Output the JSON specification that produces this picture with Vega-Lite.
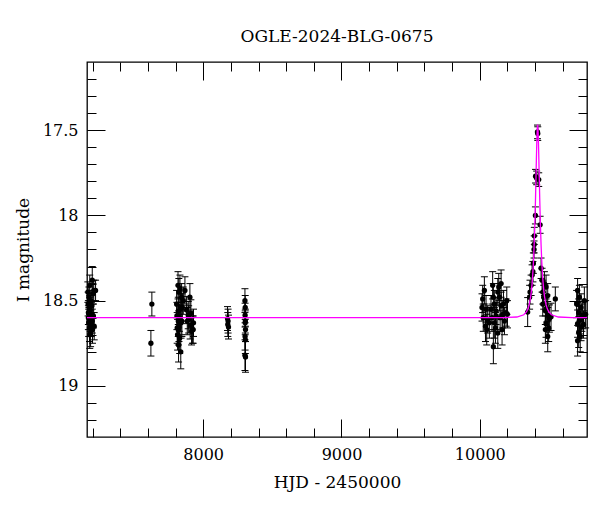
{
  "$schema": "https://vega.github.io/schema/vega-lite/v6.json",
  "width": 500,
  "height": 375,
  "autosize": "none",
  "padding": {"left": 87, "top": 62, "right": 13, "bottom": 75},
  "title": {"text": "OGLE-2024-BLG-0675", "font": "DejaVu Serif", "fontSize": 17, "fontWeight": "normal", "color": "black", "offset": 16, "anchor": "middle"},
  "config": {
    "view": {"stroke": "black", "strokeWidth": 1.3},
    "axis": {"grid": false, "domain": false, "tickColor": "black", "tickWidth": 1, "labelFont": "DejaVu Serif", "labelFontSize": 16, "labelColor": "black", "titleFont": "DejaVu Serif", "titleFontSize": 17, "titleFontWeight": "normal", "titleColor": "black"}
  },
  "datasets": {
    "obs": [
      {"hjd": 7166, "mag": 18.45, "err": 0.06}, {"hjd": 7168, "mag": 18.52, "err": 0.07}, {"hjd": 7170, "mag": 18.60, "err": 0.07},
      {"hjd": 7172, "mag": 18.63, "err": 0.08}, {"hjd": 7174, "mag": 18.48, "err": 0.06}, {"hjd": 7176, "mag": 18.57, "err": 0.07},
      {"hjd": 7178, "mag": 18.66, "err": 0.08}, {"hjd": 7180, "mag": 18.41, "err": 0.06}, {"hjd": 7182, "mag": 18.55, "err": 0.07},
      {"hjd": 7184, "mag": 18.61, "err": 0.07}, {"hjd": 7186, "mag": 18.69, "err": 0.08}, {"hjd": 7188, "mag": 18.50, "err": 0.06},
      {"hjd": 7190, "mag": 18.64, "err": 0.07}, {"hjd": 7192, "mag": 18.58, "err": 0.07}, {"hjd": 7198, "mag": 18.38, "err": 0.08},
      {"hjd": 7196, "mag": 18.53, "err": 0.07}, {"hjd": 7198, "mag": 18.62, "err": 0.07}, {"hjd": 7200, "mag": 18.67, "err": 0.08},
      {"hjd": 7203, "mag": 18.46, "err": 0.06}, {"hjd": 7206, "mag": 18.59, "err": 0.07}, {"hjd": 7209, "mag": 18.44, "err": 0.06},
      {"hjd": 7212, "mag": 18.65, "err": 0.08}, {"hjd": 7222, "mag": 18.44, "err": 0.06}, {"hjd": 7170, "mag": 18.57, "err": 0.07},
      {"hjd": 7180, "mag": 18.70, "err": 0.08},
      {"hjd": 7622, "mag": 18.75, "err": 0.075}, {"hjd": 7629, "mag": 18.52, "err": 0.07},
      {"hjd": 7808, "mag": 18.52, "err": 0.08}, {"hjd": 7810, "mag": 18.59, "err": 0.08}, {"hjd": 7812, "mag": 18.66, "err": 0.09},
      {"hjd": 7815, "mag": 18.70, "err": 0.09}, {"hjd": 7818, "mag": 18.41, "err": 0.08}, {"hjd": 7820, "mag": 18.56, "err": 0.08},
      {"hjd": 7820, "mag": 18.62, "err": 0.09}, {"hjd": 7821, "mag": 18.67, "err": 0.09}, {"hjd": 7822, "mag": 18.76, "err": 0.10},
      {"hjd": 7824, "mag": 18.45, "err": 0.08}, {"hjd": 7825, "mag": 18.65, "err": 0.09}, {"hjd": 7828, "mag": 18.60, "err": 0.08},
      {"hjd": 7830, "mag": 18.72, "err": 0.09}, {"hjd": 7832, "mag": 18.43, "err": 0.08}, {"hjd": 7835, "mag": 18.54, "err": 0.08},
      {"hjd": 7838, "mag": 18.80, "err": 0.10}, {"hjd": 7840, "mag": 18.63, "err": 0.09}, {"hjd": 7844, "mag": 18.48, "err": 0.08},
      {"hjd": 7846, "mag": 18.62, "err": 0.09}, {"hjd": 7849, "mag": 18.54, "err": 0.08}, {"hjd": 7856, "mag": 18.50, "err": 0.08},
      {"hjd": 7868, "mag": 18.44, "err": 0.08}, {"hjd": 7880, "mag": 18.555, "err": 0.08}, {"hjd": 7885, "mag": 18.62, "err": 0.08},
      {"hjd": 7892, "mag": 18.585, "err": 0.08}, {"hjd": 7895, "mag": 18.61, "err": 0.08}, {"hjd": 7904, "mag": 18.48, "err": 0.08},
      {"hjd": 7906, "mag": 18.645, "err": 0.08}, {"hjd": 7911, "mag": 18.575, "err": 0.08}, {"hjd": 7916, "mag": 18.68, "err": 0.08},
      {"hjd": 7922, "mag": 18.67, "err": 0.08}, {"hjd": 7928, "mag": 18.67, "err": 0.08}, {"hjd": 7930, "mag": 18.63, "err": 0.08},
      {"hjd": 8176, "mag": 18.605, "err": 0.07}, {"hjd": 8180, "mag": 18.62, "err": 0.07}, {"hjd": 8183, "mag": 18.655, "err": 0.07},
      {"hjd": 8178, "mag": 18.64, "err": 0.07},
      {"hjd": 8302, "mag": 18.50, "err": 0.07}, {"hjd": 8304, "mag": 18.54, "err": 0.07}, {"hjd": 8303, "mag": 18.585, "err": 0.07},
      {"hjd": 8305, "mag": 18.62, "err": 0.07}, {"hjd": 8304, "mag": 18.63, "err": 0.07}, {"hjd": 8306, "mag": 18.67, "err": 0.07},
      {"hjd": 8303, "mag": 18.71, "err": 0.08}, {"hjd": 8305, "mag": 18.73, "err": 0.08}, {"hjd": 8302, "mag": 18.82, "err": 0.09},
      {"hjd": 8306, "mag": 18.83, "err": 0.09},
      {"hjd": 10021, "mag": 18.49, "err": 0.08}, {"hjd": 10033, "mag": 18.44, "err": 0.08}, {"hjd": 10045, "mag": 18.55, "err": 0.08},
      {"hjd": 10025, "mag": 18.60, "err": 0.08}, {"hjd": 10041, "mag": 18.65, "err": 0.09}, {"hjd": 10050, "mag": 18.67, "err": 0.09},
      {"hjd": 10057, "mag": 18.61, "err": 0.08}, {"hjd": 10093, "mag": 18.41, "err": 0.08}, {"hjd": 10098, "mag": 18.48, "err": 0.08},
      {"hjd": 10105, "mag": 18.52, "err": 0.08}, {"hjd": 10118, "mag": 18.56, "err": 0.08}, {"hjd": 10088, "mag": 18.60, "err": 0.08},
      {"hjd": 10105, "mag": 18.63, "err": 0.09}, {"hjd": 10113, "mag": 18.66, "err": 0.09}, {"hjd": 10130, "mag": 18.69, "err": 0.09},
      {"hjd": 10098, "mag": 18.77, "err": 0.10}, {"hjd": 10137, "mag": 18.42, "err": 0.08}, {"hjd": 10142, "mag": 18.48, "err": 0.08},
      {"hjd": 10154, "mag": 18.53, "err": 0.08}, {"hjd": 10166, "mag": 18.58, "err": 0.08}, {"hjd": 10178, "mag": 18.62, "err": 0.08},
      {"hjd": 10161, "mag": 18.67, "err": 0.09}, {"hjd": 10190, "mag": 18.57, "err": 0.08}, {"hjd": 10195, "mag": 18.50, "err": 0.08},
      {"hjd": 10154, "mag": 18.40, "err": 0.08}, {"hjd": 10081, "mag": 18.55, "err": 0.08}, {"hjd": 10118, "mag": 18.59, "err": 0.08},
      {"hjd": 10147, "mag": 18.60, "err": 0.08}, {"hjd": 10016, "mag": 18.54, "err": 0.08}, {"hjd": 10069, "mag": 18.63, "err": 0.09},
      {"hjd": 10130, "mag": 18.45, "err": 0.08}, {"hjd": 10171, "mag": 18.52, "err": 0.08}, {"hjd": 10200, "mag": 18.58, "err": 0.08},
      {"hjd": 10346, "mag": 18.567, "err": 0.085}, {"hjd": 10360, "mag": 18.48, "err": 0.07}, {"hjd": 10363, "mag": 18.45, "err": 0.07},
      {"hjd": 10371, "mag": 18.41, "err": 0.06}, {"hjd": 10378, "mag": 18.35, "err": 0.06}, {"hjd": 10384, "mag": 18.33, "err": 0.06},
      {"hjd": 10387, "mag": 18.28, "err": 0.06}, {"hjd": 10392, "mag": 18.20, "err": 0.05}, {"hjd": 10393, "mag": 18.17, "err": 0.05},
      {"hjd": 10394, "mag": 18.12, "err": 0.05}, {"hjd": 10402, "mag": 18.00, "err": 0.05}, {"hjd": 10403, "mag": 17.77, "err": 0.04},
      {"hjd": 10411, "mag": 17.78, "err": 0.04}, {"hjd": 10426, "mag": 17.79, "err": 0.04}, {"hjd": 10417, "mag": 17.51, "err": 0.04},
      {"hjd": 10419, "mag": 17.52, "err": 0.04}, {"hjd": 10436, "mag": 18.055, "err": 0.05}, {"hjd": 10443, "mag": 18.31, "err": 0.06},
      {"hjd": 10450, "mag": 18.38, "err": 0.07}, {"hjd": 10455, "mag": 18.45, "err": 0.07}, {"hjd": 10467, "mag": 18.40, "err": 0.07},
      {"hjd": 10479, "mag": 18.42, "err": 0.07}, {"hjd": 10491, "mag": 18.47, "err": 0.07}, {"hjd": 10455, "mag": 18.52, "err": 0.07},
      {"hjd": 10474, "mag": 18.56, "err": 0.08}, {"hjd": 10491, "mag": 18.585, "err": 0.08}, {"hjd": 10479, "mag": 18.635, "err": 0.08},
      {"hjd": 10503, "mag": 18.605, "err": 0.08}, {"hjd": 10498, "mag": 18.66, "err": 0.08}, {"hjd": 10515, "mag": 18.595, "err": 0.08},
      {"hjd": 10546, "mag": 18.49, "err": 0.07}, {"hjd": 10484, "mag": 18.545, "err": 0.08}, {"hjd": 10462, "mag": 18.48, "err": 0.07},
      {"hjd": 10491, "mag": 18.71, "err": 0.09}, {"hjd": 10474, "mag": 18.67, "err": 0.08},
      {"hjd": 10707, "mag": 18.44, "err": 0.07}, {"hjd": 10720, "mag": 18.48, "err": 0.07}, {"hjd": 10700, "mag": 18.52, "err": 0.08},
      {"hjd": 10732, "mag": 18.54, "err": 0.08}, {"hjd": 10715, "mag": 18.57, "err": 0.08}, {"hjd": 10744, "mag": 18.585, "err": 0.08},
      {"hjd": 10720, "mag": 18.615, "err": 0.08}, {"hjd": 10707, "mag": 18.635, "err": 0.08}, {"hjd": 10732, "mag": 18.655, "err": 0.08},
      {"hjd": 10715, "mag": 18.685, "err": 0.09}, {"hjd": 10726, "mag": 18.71, "err": 0.09}, {"hjd": 10707, "mag": 18.735, "err": 0.09},
      {"hjd": 10756, "mag": 18.50, "err": 0.08}, {"hjd": 10738, "mag": 18.60, "err": 0.08}, {"hjd": 10750, "mag": 18.64, "err": 0.08},
      {"hjd": 10765, "mag": 18.58, "err": 0.08}
    ],
    "model": [
      {"hjd": 7160, "mag": 18.6}, {"hjd": 10000, "mag": 18.6}, {"hjd": 10168, "mag": 18.5995}, {"hjd": 10268, "mag": 18.596},
      {"hjd": 10318, "mag": 18.583}, {"hjd": 10338, "mag": 18.565}, {"hjd": 10348, "mag": 18.548}, {"hjd": 10358, "mag": 18.521},
      {"hjd": 10368, "mag": 18.476}, {"hjd": 10373, "mag": 18.443}, {"hjd": 10378, "mag": 18.400}, {"hjd": 10383, "mag": 18.344},
      {"hjd": 10388, "mag": 18.270}, {"hjd": 10393, "mag": 18.173}, {"hjd": 10398, "mag": 18.049}, {"hjd": 10400.5, "mag": 17.974},
      {"hjd": 10403, "mag": 17.893}, {"hjd": 10405.5, "mag": 17.804}, {"hjd": 10408, "mag": 17.712}, {"hjd": 10410.5, "mag": 17.621},
      {"hjd": 10413, "mag": 17.542}, {"hjd": 10415.5, "mag": 17.487}, {"hjd": 10418, "mag": 17.467}, {"hjd": 10420.5, "mag": 17.487},
      {"hjd": 10423, "mag": 17.542}, {"hjd": 10425.5, "mag": 17.621}, {"hjd": 10428, "mag": 17.712}, {"hjd": 10430.5, "mag": 17.804},
      {"hjd": 10433, "mag": 17.893}, {"hjd": 10435.5, "mag": 17.974}, {"hjd": 10438, "mag": 18.049}, {"hjd": 10443, "mag": 18.173},
      {"hjd": 10448, "mag": 18.270}, {"hjd": 10453, "mag": 18.344}, {"hjd": 10458, "mag": 18.400}, {"hjd": 10463, "mag": 18.443},
      {"hjd": 10468, "mag": 18.476}, {"hjd": 10478, "mag": 18.521}, {"hjd": 10488, "mag": 18.548}, {"hjd": 10498, "mag": 18.565},
      {"hjd": 10518, "mag": 18.583}, {"hjd": 10568, "mag": 18.596}, {"hjd": 10668, "mag": 18.5995}, {"hjd": 10775, "mag": 18.6}
    ]
  },
  "resolve": {"axis": {"x": "independent", "y": "independent"}},
  "layer": [
    {
      "data": {"name": "obs"},
      "mark": {"type": "errorbar", "ticks": {"size": 7, "color": "black", "opacity": 1}, "thickness": 1, "color": "black", "opacity": 1},
      "encoding": {
        "x": {"field": "hjd", "type": "quantitative", "scale": {"domain": [7160, 10775], "nice": false, "zero": false},
              "axis": {"orient": "bottom", "values": [8000, 9000, 10000], "format": "d", "tickSize": -18, "labelPadding": 27, "title": "HJD - 2450000", "titlePadding": 12}},
        "y": {"field": "mag", "type": "quantitative", "scale": {"domain": [17.1, 19.3], "reverse": true, "nice": false, "zero": false},
              "axis": {"orient": "left", "values": [17.5, 18, 18.5, 19], "format": "~g", "tickSize": -18, "labelPadding": 27, "title": "I magnitude", "titlePadding": 10}},
        "yError": {"field": "err"}
      }
    },
    {
      "data": {"name": "obs"},
      "mark": {"type": "circle", "color": "black", "size": 28, "opacity": 1},
      "encoding": {
        "x": {"field": "hjd", "type": "quantitative",
              "axis": {"orient": "bottom", "values": [7200, 7400, 7600, 7800, 8000, 8200, 8400, 8600, 8800, 9000, 9200, 9400, 9600, 9800, 10000, 10200, 10400, 10600], "labels": false, "tickSize": -9, "title": null}},
        "y": {"field": "mag", "type": "quantitative",
              "axis": {"orient": "left", "values": [17.2, 17.3, 17.4, 17.5, 17.6, 17.7, 17.8, 17.9, 18, 18.1, 18.2, 18.3, 18.4, 18.5, 18.6, 18.7, 18.8, 18.9, 19, 19.1, 19.2], "labels": false, "tickSize": -9, "title": null}}
      }
    },
    {
      "data": {"name": "model"},
      "mark": {"type": "line", "color": "#ff00ff", "strokeWidth": 1.3},
      "encoding": {
        "x": {"field": "hjd", "type": "quantitative",
              "axis": {"orient": "top", "values": [8000, 9000, 10000], "labels": false, "tickSize": -18, "title": null}},
        "y": {"field": "mag", "type": "quantitative",
              "axis": {"orient": "right", "values": [17.5, 18, 18.5, 19], "labels": false, "tickSize": -18, "title": null}}
      }
    },
    {
      "data": {"name": "model"},
      "mark": {"type": "line", "opacity": 0},
      "encoding": {
        "x": {"field": "hjd", "type": "quantitative",
              "axis": {"orient": "top", "values": [7200, 7400, 7600, 7800, 8000, 8200, 8400, 8600, 8800, 9000, 9200, 9400, 9600, 9800, 10000, 10200, 10400, 10600], "labels": false, "tickSize": -9, "title": null}},
        "y": {"field": "mag", "type": "quantitative",
              "axis": {"orient": "right", "values": [17.2, 17.3, 17.4, 17.5, 17.6, 17.7, 17.8, 17.9, 18, 18.1, 18.2, 18.3, 18.4, 18.5, 18.6, 18.7, 18.8, 18.9, 19, 19.1, 19.2], "labels": false, "tickSize": -9, "title": null}}
      }
    }
  ]
}
